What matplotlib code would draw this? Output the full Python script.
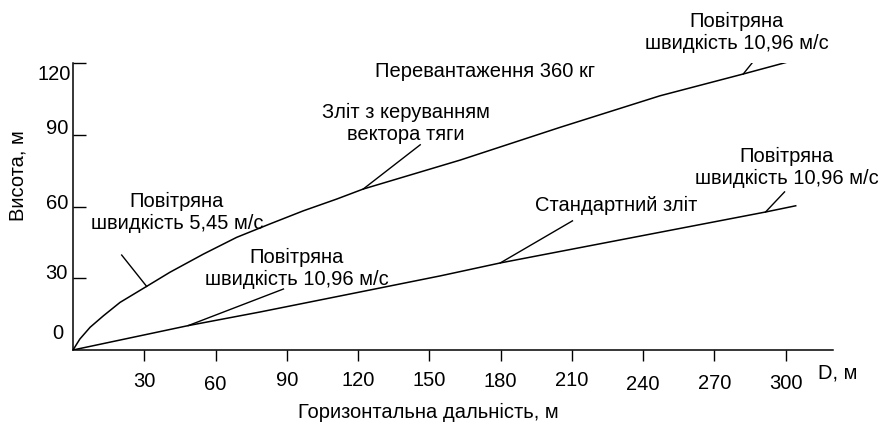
import matplotlib
matplotlib.use('Agg')
import matplotlib.pyplot as plt

plt.rcParams['font.family'] = ['Liberation Sans', 'DejaVu Sans']

# upper curve: take-off with thrust vector control
tvc_d = [0, 2.9, 7.2, 12.8, 19.8, 31.0, 40.8, 54.9, 68.9, 82.9, 97.0, 111.0, 122.2,
		 163.0, 205.1, 247.2, 282.2, 300.5]
tvc_h = [0, 4.6, 9.5, 14.3, 19.9, 26.6, 32.5, 40.1, 47.1, 52.7, 58.2, 63.1, 67.3,
		 79.4, 93.1, 106.3, 115.4, 120.3]

# lower curve: standard take-off
std_d = [0, 48.5, 78.8, 125.1, 154.7, 179.9, 291.6, 304.3]
std_h = [0, 10.2, 15.9, 25.1, 31.0, 36.4, 57.7, 60.3]

xticks = [30, 60, 90, 120, 150, 180, 210, 240, 270, 300]
yticks = [0, 30, 60, 90, 120]
# small shifts of the tick labels, pixels (as in the original drawing)
xlab_dy = [-31, -34, -30, -30, -30, -31, -30, -34, -33, -33]
ylab_dy = [17, 6, 4, 7, -11]
ylab_dx = [-10, -5, -5, -5, -2]

fig = plt.figure(figsize=(8.8, 4.27), dpi=100)
ax = fig.add_axes([73/880, 1-351/427, 760/880, 287/427])
ax.set_xlim(0, 320)
ax.set_ylim(0, 120)

ax.plot(tvc_d, tvc_h, color='black', lw=1.1)
ax.plot(std_d, std_h, color='black', lw=1.1)

for s in ['top', 'right']:
	ax.spines[s].set_visible(False)
for s in ['left', 'bottom']:
	ax.spines[s].set_linewidth(1.1)

ax.set_xticks(xticks)
ax.set_xticklabels([])
ax.set_yticks(yticks[1:])
ax.set_yticklabels([])
ax.tick_params(axis='x', direction='out', length=8, width=1)
ax.tick_params(axis='y', direction='in', length=9, width=1)

fs = 14.5
for v, dy in zip(xticks, xlab_dy):
	ax.annotate(str(v), (v, 0), xycoords=('data', 'axes fraction'), xytext=(0, dy),
				textcoords='offset pixels', ha='center', va='center', fontsize=fs)
for v, dx, dy in zip(yticks, ylab_dx, ylab_dy):
	ax.annotate(str(v), (0, v), xycoords=('axes fraction', 'data'), xytext=(dx, dy),
				textcoords='offset pixels', ha='right', va='center', fontsize=fs)

ax.annotate('D, м', (1, 0), xycoords='axes fraction', xytext=(-15, -22),
			textcoords='offset pixels', ha='left', va='center', fontsize=fs)
fig.text(18/880, 1-176/427, 'Висота, м', rotation=90, ha='center', va='center', fontsize=fs)
fig.text(428/880, 1-412/427, 'Горизонтальна дальність, м', ha='center', va='center', fontsize=fs)

# callouts: point on curve, end of leader line, text position (all data units)
def callout(pt, end, txt, tpos):
	ax.plot([pt[0], end[0]], [pt[1], end[1]], color='black', lw=1.0)
	ax.text(tpos[0], tpos[1], txt, ha='center', va='center', fontsize=fs,
			linespacing=1.2, clip_on=False)

callout((31.0, 26.6), (20.5, 39.7), 'Повітряна\nшвидкість 5,45 м/с', (43.8, 57.9))
callout((48.5, 10.2), (88.6, 25.5), 'Повітряна\nшвидкість 10,96 м/с', (94.3, 34.7))
callout((122.2, 67.3), (146.2, 85.8), 'Зліт з керуванням\nвектора тяги', (140.2, 95.3))
callout((179.9, 36.4), (210.3, 54.0), 'Стандартний зліт', (228.6, 61.0))
callout((282.2, 115.4), (290.7, 125.9), 'Повітряна\nшвидкість 10,96 м/с', (279.6, 133.0))
callout((291.6, 57.7), (299.6, 66.1), 'Повітряна\nшвидкість 10,96 м/с', (300.6, 76.9))

ax.text(173.5, 117.0, 'Перевантаження 360 кг', ha='center', va='center', fontsize=fs)

fig.savefig('out.png', dpi=100)
